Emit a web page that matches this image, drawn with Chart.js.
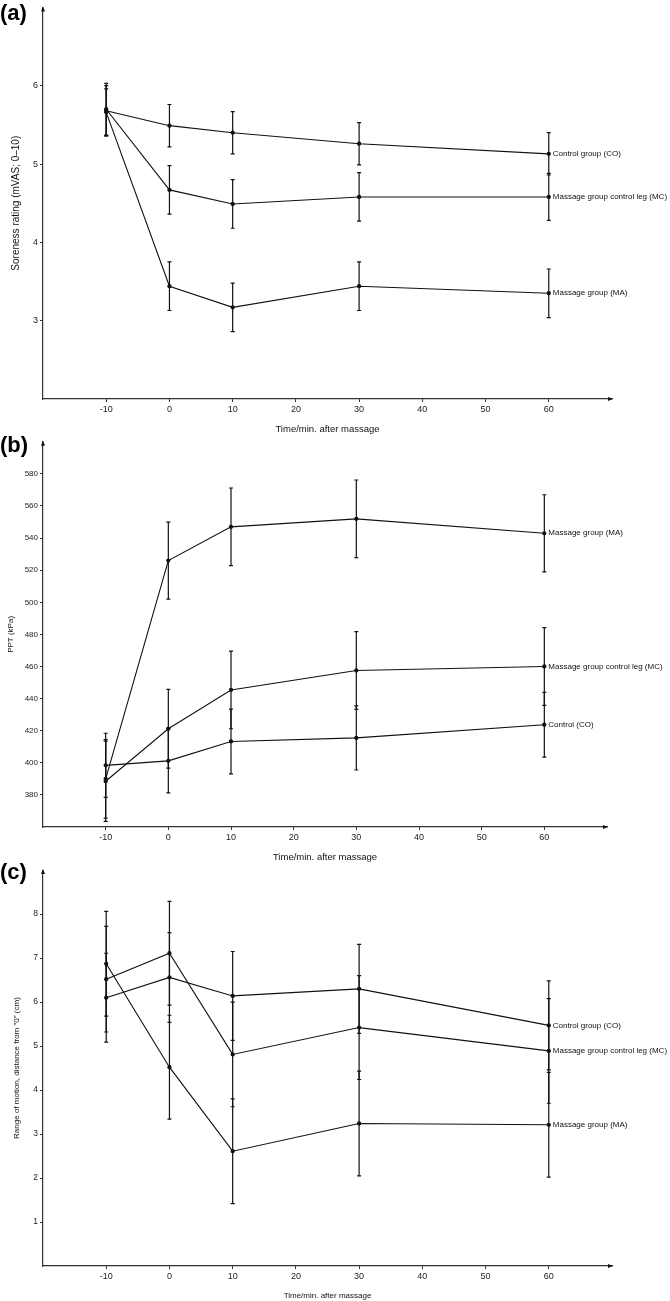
<!DOCTYPE html>
<html>
<head>
<meta charset="utf-8">
<script src="https://cdn.jsdelivr.net/npm/chart.js@4"></script>
<style>
body { margin: 0; background: #fff; width: 670px; height: 1301px; position: relative; overflow: hidden; }
canvas { position: absolute; left: 0; }
.tag { position: absolute; left: 0; font: bold 22px/22px "Liberation Sans", Arial, sans-serif; color: #000; }
</style>
</head>
<body>
<canvas id="chartA" width="670" height="435" style="top:0"></canvas>
<canvas id="chartB" width="670" height="428" style="top:435px"></canvas>
<canvas id="chartC" width="670" height="438" style="top:863px"></canvas>
<div class="tag" style="top:2px">(a)</div>
<div class="tag" style="top:434px">(b)</div>
<div class="tag" style="top:861px">(c)</div>
<script>
// time points (min after massage) and axis ticks
var times = [-10, 0, 10, 30, 60];
var timeTicks = [-10, 0, 10, 20, 30, 40, 50, 60];

// (a) soreness rating
var soreCO = [5.68, 5.49, 5.40, 5.26, 5.13];
var soreCOErr = [0.32, 0.27, 0.27, 0.27, 0.27];
var soreMC = [5.70, 4.67, 4.49, 4.58, 4.58];
var soreMCErr = [0.33, 0.31, 0.31, 0.31, 0.30];
var soreMA = [5.66, 3.44, 3.17, 3.44, 3.35];
var soreMAErr = [0.30, 0.31, 0.31, 0.31, 0.31];
var soreTicks = [3, 4, 5, 6];

// (b) pressure pain threshold
var pptCO = [398.4, 401.2, 413.3, 415.5, 423.7];
var pptCOErr = [20, 20, 20.2, 20, 20.2];
var pptMC = [388.5, 421.2, 445.4, 457.5, 460.0];
var pptMCErr = [25, 24.5, 24.2, 24.2, 24.2];
var pptMA = [390, 526, 547, 552, 543];
var pptMAErr = [24.5, 24, 24.2, 24.2, 24];
var pptTicks = [380, 400, 420, 440, 460, 480, 500, 520, 540, 560, 580];

// (c) range of motion
var romCO = [6.10, 6.56, 6.14, 6.30, 5.47];
var romCOErr = [1.01, 1.02, 1.01, 1.01, 1.01];
var romMC = [6.52, 7.11, 4.81, 5.42, 4.89];
var romMCErr = [1.20, 1.18, 1.19, 1.18, 1.19];
var romMA = [6.87, 4.52, 2.61, 3.24, 3.21];
var romMAErr = [1.19, 1.18, 1.19, 1.19, 1.19];
var romTicks = [1, 2, 3, 4, 5, 6, 7, 8];

var FONT = '"Liberation Sans", Arial, sans-serif';
Chart.defaults.font.family = FONT;
Chart.defaults.color = '#111';

function points(vals) {
    return times.map(function (t, i) { return { x: t, y: vals[i] }; });
}

function series(label, vals, errs) {
    return {
        label: label,
        data: points(vals),
        errors: errs,
        borderColor: '#111',
        backgroundColor: '#111',
        borderWidth: 1.1,
        pointRadius: 1.6,
        pointHoverRadius: 1.6,
        tension: 0,
        fill: false
    };
}

// error bars, end labels and axis arrows
var extras = {
    id: 'extras',
    afterDatasetsDraw: function (chart) {
        var ctx = chart.ctx, x = chart.scales.x, y = chart.scales.y, area = chart.chartArea;
        ctx.save();
        ctx.strokeStyle = '#111';
        ctx.fillStyle = '#111';
        ctx.lineWidth = 1.2;
        chart.data.datasets.forEach(function (ds) {
            ds.data.forEach(function (p, i) {
                var px = x.getPixelForValue(p.x);
                var top = y.getPixelForValue(p.y + ds.errors[i]);
                var bot = y.getPixelForValue(p.y - ds.errors[i]);
                ctx.beginPath();
                ctx.moveTo(px, top); ctx.lineTo(px, bot);
                ctx.moveTo(px - 2, top); ctx.lineTo(px + 2, top);
                ctx.moveTo(px - 2, bot); ctx.lineTo(px + 2, bot);
                ctx.stroke();
            });
            var last = ds.data[ds.data.length - 1];
            ctx.font = '8px ' + FONT;
            ctx.textAlign = 'left';
            ctx.textBaseline = 'middle';
            ctx.fillText(ds.label, x.getPixelForValue(last.x) + 4, y.getPixelForValue(last.y));
        });
        // arrow heads
        ctx.beginPath();
        ctx.moveTo(area.left, area.top - 1);
        ctx.lineTo(area.left - 2, area.top + 4);
        ctx.lineTo(area.left + 2, area.top + 4);
        ctx.closePath();
        ctx.fill();
        ctx.beginPath();
        ctx.moveTo(area.right + 1, area.bottom);
        ctx.lineTo(area.right - 4, area.bottom - 2);
        ctx.lineTo(area.right - 4, area.bottom + 2);
        ctx.closePath();
        ctx.fill();
        ctx.restore();
    }
};

function buildPanel(id, o) {
    return new Chart(document.getElementById(id), {
        type: 'line',
        data: { datasets: o.datasets },
        options: {
            responsive: false,
            animation: false,
            layout: { padding: { top: o.padTop, right: o.padRight, left: 0, bottom: 0 } },
            plugins: { legend: { display: false }, tooltip: { enabled: false } },
            scales: {
                x: {
                    type: 'linear', min: -20, max: 70,
                    afterBuildTicks: function (s) { s.ticks = timeTicks.map(function (v) { return { value: v }; }); },
                    afterFit: function (s) { s.height = o.xHeight; },
                    grid: { display: true, drawOnChartArea: false, drawTicks: true, tickLength: 3, color: '#333' },
                    border: { display: true, color: '#333', width: 1.2 },
                    ticks: { font: { size: 9 }, color: '#222', padding: 2, maxRotation: 0, autoSkip: false },
                    title: { display: true, text: 'Time/min. after massage', font: { size: o.xTitleSize }, color: '#111', padding: { top: 0, bottom: 0 } }
                },
                y: {
                    type: 'linear', min: o.yMin, max: o.yMax,
                    afterBuildTicks: function (s) { s.ticks = o.yTicks.map(function (v) { return { value: v }; }); },
                    afterFit: function (s) { s.width = 43; },
                    grid: { display: true, drawOnChartArea: false, drawTicks: true, tickLength: 3, color: '#333' },
                    border: { display: true, color: '#333', width: 1.2 },
                    ticks: { font: { size: o.yTickSize }, color: '#222', padding: 2 },
                    title: { display: true, text: o.yTitle, font: { size: o.yTitleSize }, color: '#111', padding: { top: o.yTitlePad, bottom: 0 } }
                }
            }
        },
        plugins: [extras]
    });
}

buildPanel('chartA', {
    datasets: [
        series('Control group (CO)', soreCO, soreCOErr),
        series('Massage group control leg (MC)', soreMC, soreMCErr),
        series('Massage group (MA)', soreMA, soreMAErr)
    ],
    yMin: 2, yMax: 7, yTicks: soreTicks,
    yTitle: 'Soreness rating (mVAS; 0\u201310)', yTitleSize: 10, yTitlePad: 10, yTickSize: 9,
    xTitleSize: 9.5, xHeight: 36, padTop: 3, padRight: 58
});

buildPanel('chartB', {
    datasets: [
        series('Control (CO)', pptCO, pptCOErr),
        series('Massage group control leg (MC)', pptMC, pptMCErr),
        series('Massage group (MA)', pptMA, pptMAErr)
    ],
    yMin: 360, yMax: 600, yTicks: pptTicks,
    yTitle: 'PPT (kPa)', yTitleSize: 8, yTitlePad: 6, yTickSize: 8,
    xTitleSize: 9.5, xHeight: 36, padTop: 1, padRight: 63
});

buildPanel('chartC', {
    datasets: [
        series('Control group (CO)', romCO, romCOErr),
        series('Massage group control leg (MC)', romMC, romMCErr),
        series('Massage group (MA)', romMA, romMAErr)
    ],
    yMin: 0, yMax: 9, yTicks: romTicks,
    yTitle: 'Range of motion, distance from "0" (cm)', yTitleSize: 8, yTitlePad: 12, yTickSize: 8.5,
    xTitleSize: 8, xHeight: 35, padTop: 1, padRight: 58
});
</script>
</body>
</html>
